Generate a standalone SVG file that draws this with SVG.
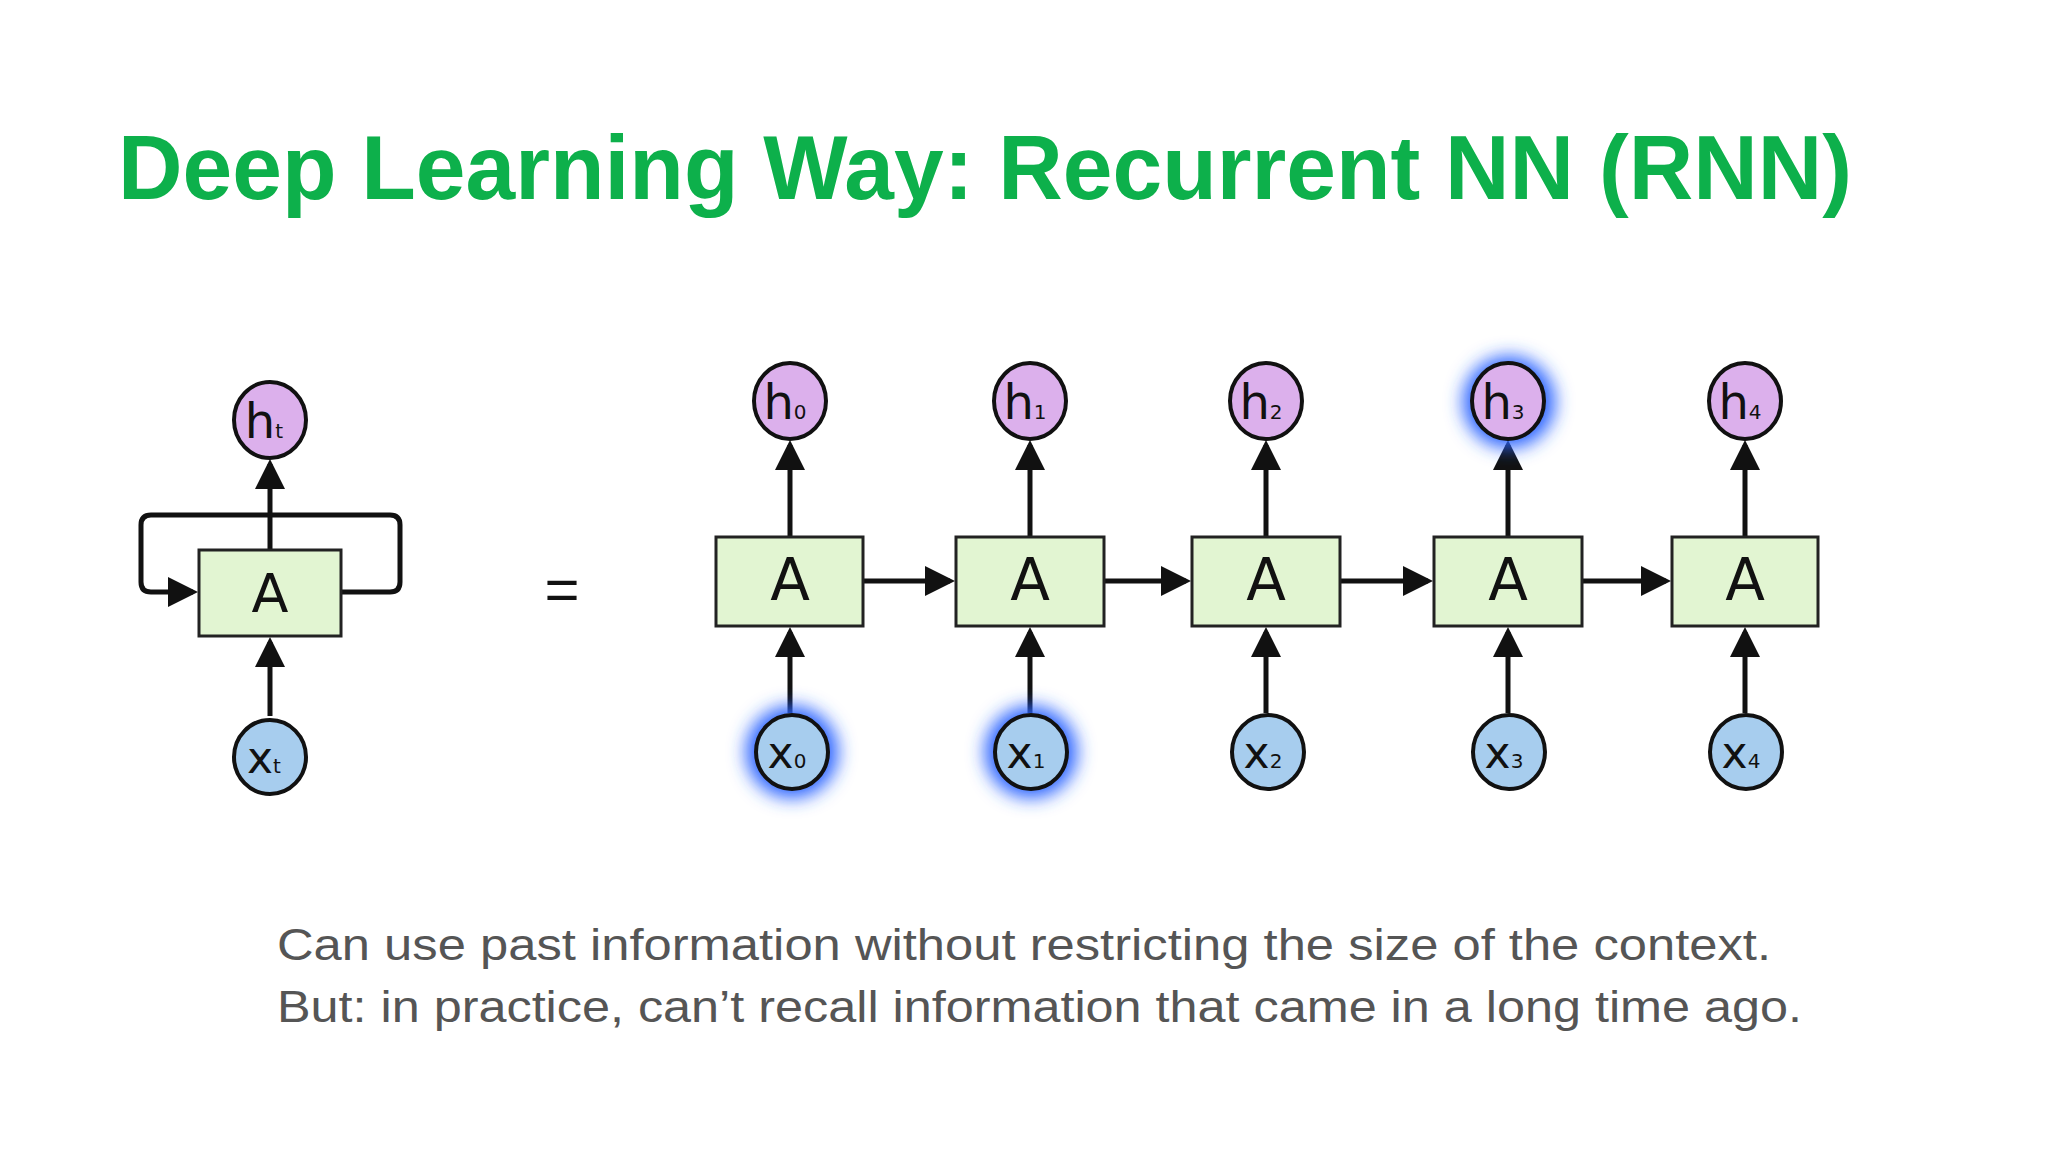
<svg xmlns="http://www.w3.org/2000/svg" width="2048" height="1152" viewBox="0 0 2048 1152">
<defs>
<style>
.t{font-family:"Liberation Sans","DejaVu Sans",sans-serif}
.box{fill:#e2f5d2;stroke:#222;stroke-width:3}
.h{fill:#dcb0ec;stroke:#111;stroke-width:4}
.x{fill:#a7cdee;stroke:#111;stroke-width:4}
.lbl{font-family:"DejaVu Sans","Liberation Sans",sans-serif;fill:#111}
.c{stroke:#111;stroke-width:5;fill:none}
</style>
<marker id="ar" markerWidth="6" markerHeight="6" refX="5" refY="3" orient="auto" markerUnits="strokeWidth"><path d="M0,0 L6,3 L0,6z" fill="#111"/></marker>
<filter id="glow" x="-1" y="-1" width="3" height="3"><feGaussianBlur stdDeviation="9"/></filter>
</defs>
<rect width="2048" height="1152" fill="#fff"/>
<text class="t" x="118" y="199" font-size="90" font-weight="bold" fill="#0db04b" textLength="1734" lengthAdjust="spacingAndGlyphs">Deep Learning Way: Recurrent NN (RNN)</text>
<g id="connectors">
<path class="c" d="M270,550 V464" marker-end="url(#ar)"/>
<path class="c" d="M270,716 V642" marker-end="url(#ar)"/>
<path class="c" d="M341,592 H390 Q400,592 400,582 V525 Q400,515 390,515 H151 Q141,515 141,525 V582 Q141,592 151,592 H193" marker-end="url(#ar)"/>
<path class="c" d="M790,537 V445" marker-end="url(#ar)"/>
<path class="c" d="M1030,537 V445" marker-end="url(#ar)"/>
<path class="c" d="M1266,537 V445" marker-end="url(#ar)"/>
<path class="c" d="M1508,537 V445" marker-end="url(#ar)"/>
<path class="c" d="M1745,537 V445" marker-end="url(#ar)"/>
<path class="c" d="M790,713 V632" marker-end="url(#ar)"/>
<path class="c" d="M1030,713 V632" marker-end="url(#ar)"/>
<path class="c" d="M1266,713 V632" marker-end="url(#ar)"/>
<path class="c" d="M1508,713 V632" marker-end="url(#ar)"/>
<path class="c" d="M1745,713 V632" marker-end="url(#ar)"/>
<path class="c" d="M863,581 H950" marker-end="url(#ar)"/>
<path class="c" d="M1104,581 H1186" marker-end="url(#ar)"/>
<path class="c" d="M1340,581 H1428" marker-end="url(#ar)"/>
<path class="c" d="M1582,581 H1666" marker-end="url(#ar)"/>
</g>
<g id="glows" filter="url(#glow)" fill="#2a63ff">
<circle cx="792" cy="752" r="46"/><circle cx="1031" cy="752" r="46"/><circle cx="1509" cy="402" r="46"/>
</g>
<g id="A-loop"><rect class="box" x="199" y="550" width="142" height="86"/><text class="lbl" x="270" y="612" font-size="54" text-anchor="middle">A</text></g>
<g id="ht"><ellipse class="h" cx="270" cy="420" rx="36" ry="38"/><text class="lbl" x="264" y="438" font-size="48" text-anchor="middle">h<tspan font-size="20">t</tspan></text></g>
<g id="xt"><ellipse class="x" cx="270" cy="757" rx="36" ry="37"/><text class="lbl" x="264" y="773" font-size="44" text-anchor="middle">x<tspan font-size="20">t</tspan></text></g>
<text class="t" x="562" y="610" font-size="60" text-anchor="middle" fill="#111">=</text>
<g id="A0"><rect class="box" x="716" y="537" width="147" height="89"/><text class="lbl" x="790" y="600" font-size="58" text-anchor="middle">A</text></g>
<g id="A1"><rect class="box" x="956" y="537" width="148" height="89"/><text class="lbl" x="1030" y="600" font-size="58" text-anchor="middle">A</text></g>
<g id="A2"><rect class="box" x="1192" y="537" width="148" height="89"/><text class="lbl" x="1266" y="600" font-size="58" text-anchor="middle">A</text></g>
<g id="A3"><rect class="box" x="1434" y="537" width="148" height="89"/><text class="lbl" x="1508" y="600" font-size="58" text-anchor="middle">A</text></g>
<g id="A4"><rect class="box" x="1672" y="537" width="146" height="89"/><text class="lbl" x="1745" y="600" font-size="58" text-anchor="middle">A</text></g>
<g id="h0"><ellipse class="h" cx="790" cy="401" rx="36" ry="38"/><text class="lbl" x="785" y="419" font-size="48" text-anchor="middle">h<tspan font-size="20">0</tspan></text></g>
<g id="h1"><ellipse class="h" cx="1030" cy="401" rx="36" ry="38"/><text class="lbl" x="1025" y="419" font-size="48" text-anchor="middle">h<tspan font-size="20">1</tspan></text></g>
<g id="h2"><ellipse class="h" cx="1266" cy="401" rx="36" ry="38"/><text class="lbl" x="1261" y="419" font-size="48" text-anchor="middle">h<tspan font-size="20">2</tspan></text></g>
<g id="h3"><ellipse class="h" cx="1508" cy="401" rx="36" ry="38"/><text class="lbl" x="1503" y="419" font-size="48" text-anchor="middle">h<tspan font-size="20">3</tspan></text></g>
<g id="h4"><ellipse class="h" cx="1745" cy="401" rx="36" ry="38"/><text class="lbl" x="1740" y="419" font-size="48" text-anchor="middle">h<tspan font-size="20">4</tspan></text></g>
<g id="x0"><ellipse class="x" cx="792" cy="752" rx="36" ry="37"/><text class="lbl" x="787" y="768" font-size="44" text-anchor="middle">x<tspan font-size="20">0</tspan></text></g>
<g id="x1"><ellipse class="x" cx="1031" cy="752" rx="36" ry="37"/><text class="lbl" x="1026" y="768" font-size="44" text-anchor="middle">x<tspan font-size="20">1</tspan></text></g>
<g id="x2"><ellipse class="x" cx="1268" cy="752" rx="36" ry="37"/><text class="lbl" x="1263" y="768" font-size="44" text-anchor="middle">x<tspan font-size="20">2</tspan></text></g>
<g id="x3"><ellipse class="x" cx="1509" cy="752" rx="36" ry="37"/><text class="lbl" x="1504" y="768" font-size="44" text-anchor="middle">x<tspan font-size="20">3</tspan></text></g>
<g id="x4"><ellipse class="x" cx="1746" cy="752" rx="36" ry="37"/><text class="lbl" x="1741" y="768" font-size="44" text-anchor="middle">x<tspan font-size="20">4</tspan></text></g>
<text class="t" x="277" y="960" font-size="44" fill="#555" textLength="1494" lengthAdjust="spacingAndGlyphs">Can use past information without restricting the size of the context.</text>
<text class="t" x="277" y="1022" font-size="44" fill="#555" textLength="1525" lengthAdjust="spacingAndGlyphs">But: in practice, can’t recall information that came in a long time ago.</text>
</svg>
